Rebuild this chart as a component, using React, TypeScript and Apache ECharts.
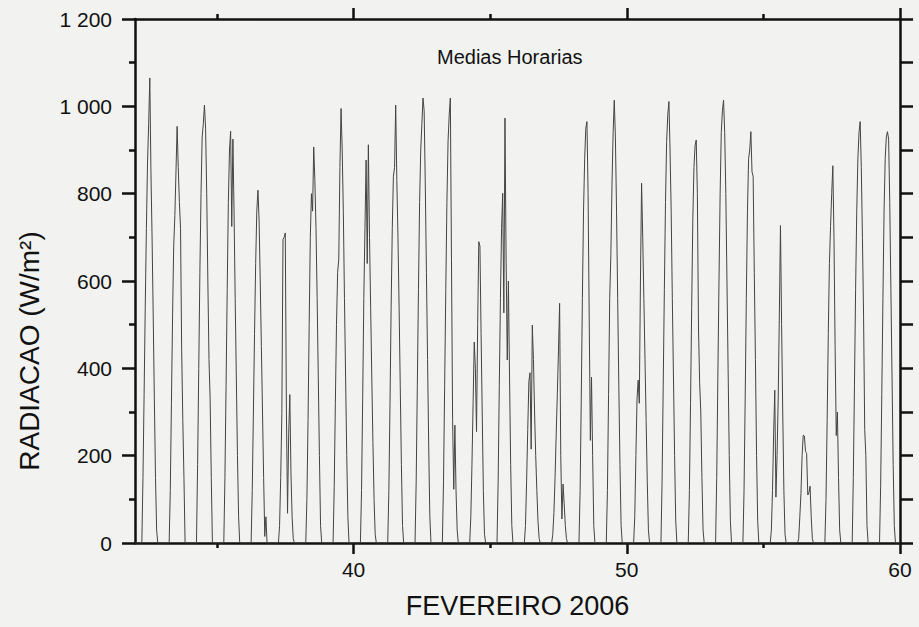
import React, { useEffect, useRef } from "react";
import * as echarts from "echarts";

// Horas do dia com radiação (as demais horas valem zero)
const HORAS_DIURNAS = [7, 8, 9, 10, 11, 12, 13, 14, 15, 16, 17, 18, 19];
const DIA_INICIAL = 32; // 1 de fevereiro (dia juliano)

// Médias horárias (W/m²), uma linha por dia, horas 7..19
const semana1 = [
  [150, 340, 540, 720, 870, 960, 1065, 850, 700, 520, 330, 150, 30], // 32
  [120, 320, 520, 680, 750, 850, 954, 860, 780, 720, 440, 280, 150], // 33
  [180, 400, 620, 800, 930, 960, 1003, 950, 800, 600, 420, 330, 150], // 34
  [150, 360, 580, 780, 900, 943, 725, 925, 760, 560, 380, 200, 60], // 35
  [120, 300, 480, 640, 760, 808, 740, 600, 450, 300, 150, 15, 60], // 36
  [40, 150, 297, 695, 700, 710, 300, 68, 250, 340, 160, 60, 10], // 37
  [100, 280, 500, 700, 800, 760, 907, 830, 720, 560, 380, 200, 40], // 38
];
const semana2 = [
  [130, 320, 500, 620, 650, 860, 995, 900, 760, 560, 380, 200, 60], // 39
  [120, 330, 560, 720, 877, 640, 912, 700, 540, 380, 230, 100, 20], // 40
  [120, 320, 540, 720, 840, 860, 1003, 830, 700, 540, 360, 180, 40], // 41
  [140, 360, 580, 780, 900, 960, 1019, 990, 820, 620, 420, 220, 60], // 42
  [140, 360, 580, 780, 920, 980, 1019, 650, 280, 123, 270, 120, 30], // 43
  [60, 180, 320, 460, 400, 255, 500, 690, 680, 480, 300, 120, 20], // 44
  [140, 360, 560, 720, 801, 527, 973, 648, 419, 600, 380, 180, 40], // 45
];
const semana3 = [
  [40, 140, 260, 370, 390, 215, 499, 420, 300, 200, 120, 50, 10], // 46
  [20, 70, 150, 250, 343, 440, 549, 200, 55, 135, 90, 40, 10], // 47
  [120, 330, 560, 760, 880, 950, 965, 800, 511, 235, 380, 200, 40], // 48
  [120, 340, 560, 660, 820, 940, 1014, 930, 760, 560, 360, 180, 40], // 49
  [60, 200, 330, 373, 320, 600, 824, 700, 560, 420, 280, 140, 30], // 50
  [140, 360, 580, 780, 920, 980, 1011, 900, 760, 560, 380, 200, 50], // 51
  [120, 320, 540, 740, 860, 910, 923, 800, 490, 367, 300, 150, 30], // 52
];
const semana4 = [
  [150, 380, 600, 800, 940, 990, 1014, 940, 800, 600, 400, 200, 50], // 53
  [120, 330, 560, 760, 880, 900, 942, 850, 840, 620, 420, 200, 50], // 54
  [30, 120, 250, 350, 105, 200, 330, 520, 727, 500, 300, 120, 20], // 55
  [10, 60, 114, 200, 247, 245, 210, 205, 110, 115, 130, 60, 10], // 56
  [100, 280, 480, 640, 725, 800, 864, 700, 447, 246, 300, 150, 30], // 57
  [150, 360, 580, 760, 880, 940, 965, 860, 700, 520, 260, 200, 40], // 58
  [130, 340, 560, 760, 880, 930, 942, 925, 780, 580, 380, 180, 40], // 59
];

const X_MIN = 32;
const X_MAX = 60;
const X_ROTULOS = [40, 50, 60];
const X_MARCAS_MENORES = [35, 45, 55];
const Y_MIN = 0;
const Y_MAX = 1200;

function serieHoraria(): [number, number][] {
  const dias = [...semana1, ...semana2, ...semana3, ...semana4];
  const pontos: [number, number][] = [];
  dias.forEach((valores, i) => {
    const dia = DIA_INICIAL + i;
    for (let h = 0; h < 24; h++) {
      const k = HORAS_DIURNAS.indexOf(h);
      pontos.push([dia + h / 24, k >= 0 ? valores[k] : 0]);
    }
  });
  pontos.push([X_MAX, 0]);
  return pontos;
}

const FONTE = "'Liberation Sans', Arial, Helvetica, sans-serif";
const PRETO = "#111";
const EIXO = { color: PRETO, width: 2.5 };

function rotuloY(v: number): string {
  if (v >= 1000) {
    return `${Math.floor(v / 1000)} ${String(v % 1000).padStart(3, "0")}`;
  }
  return String(v);
}

export default function App() {
  const ref = useRef<HTMLDivElement>(null);

  useEffect(() => {
    if (!ref.current) return;
    const chart = echarts.init(ref.current, null, { renderer: "svg" });
    const eixoX = (extra: any) => ({
      type: "value",
      min: X_MIN,
      max: X_MAX,
      splitLine: { show: false },
      ...extra,
    });
    chart.setOption({
      animation: false,
      backgroundColor: "#f2f2f0",
      grid: { left: 135, right: 19, top: 19, bottom: 84, containLabel: false },
      xAxis: [
        eixoX({
          position: "bottom",
          axisLine: { show: true, lineStyle: EIXO },
          axisTick: { show: true, customValues: X_ROTULOS, length: 11, lineStyle: EIXO },
          axisLabel: {
            show: true,
            customValues: X_ROTULOS,
            color: PRETO,
            fontFamily: FONTE,
            fontSize: 21,
            margin: 16,
          },
          name: "FEVEREIRO 2006",
          nameLocation: "middle",
          nameGap: 49,
          nameTextStyle: { color: PRETO, fontFamily: FONTE, fontSize: 27 },
        }),
        eixoX({
          position: "bottom",
          axisLine: { show: false },
          axisTick: { show: true, customValues: X_MARCAS_MENORES, length: 5, lineStyle: EIXO },
          axisLabel: { show: false },
        }),
        eixoX({
          position: "top",
          axisLine: { show: true, lineStyle: EIXO },
          axisTick: { show: true, customValues: X_ROTULOS, length: 11, lineStyle: EIXO },
          axisLabel: { show: false },
        }),
        eixoX({
          position: "top",
          axisLine: { show: false },
          axisTick: { show: true, customValues: X_MARCAS_MENORES, length: 5, lineStyle: EIXO },
          axisLabel: { show: false },
        }),
      ],
      yAxis: [
        {
          type: "value",
          position: "left",
          min: Y_MIN,
          max: Y_MAX,
          interval: 200,
          splitLine: { show: false },
          axisLine: { show: true, lineStyle: EIXO },
          axisTick: { show: true, length: 13, lineStyle: EIXO },
          minorTick: { show: true, splitNumber: 2, length: 6, lineStyle: EIXO },
          axisLabel: {
            color: PRETO,
            fontFamily: FONTE,
            fontSize: 21,
            margin: 23,
            formatter: rotuloY,
          },
        },
        {
          type: "value",
          position: "right",
          min: Y_MIN,
          max: Y_MAX,
          interval: 100,
          splitLine: { show: false },
          axisLine: { show: true, lineStyle: EIXO },
          axisTick: { show: true, length: 13, lineStyle: EIXO },
          axisLabel: { show: false },
        },
      ],
      graphic: [
        {
          type: "text",
          left: 437,
          top: 47,
          style: {
            text: "Medias Horarias",
            fill: PRETO,
            font: `20px ${FONTE}`,
          },
        },
        {
          type: "text",
          x: 29,
          y: 351,
          rotation: Math.PI / 2,
          style: {
            text: "RADIACAO (W/m²)",
            fill: PRETO,
            font: `28px ${FONTE}`,
            align: "center",
            verticalAlign: "middle",
          },
        },
      ],
      series: [
        {
          type: "line",
          xAxisIndex: 0,
          yAxisIndex: 0,
          data: serieHoraria(),
          showSymbol: false,
          symbol: "none",
          lineStyle: { color: "#444", width: 1 },
          silent: true,
        },
      ],
    });
    return () => chart.dispose();
  }, []);

  return (
    <div
      ref={ref}
      style={{ position: "fixed", left: 0, top: 0, width: 919, height: 627 }}
    />
  );
}
